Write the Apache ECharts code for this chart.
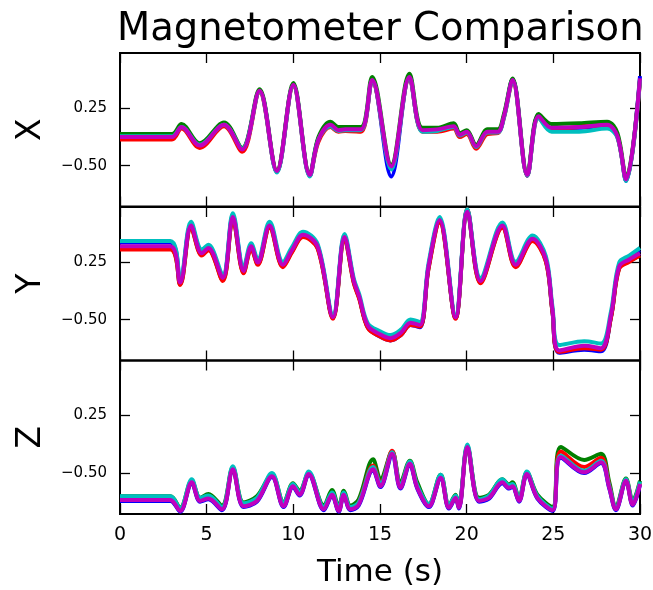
<!DOCTYPE html>
<html>
<head>
<meta charset="utf-8">
<title>Magnetometer Comparison</title>
<script src="https://cdn.jsdelivr.net/npm/echarts@6/dist/echarts.min.js"></script>
<style>
	html, body { margin: 0; padding: 0; background: #fff; }
	#chart { width: 653px; height: 590px; }
</style>
</head>
<body>
<div id="chart"></div>
<script>
// x panel
var tX = [0, 3.0, 3.55, 4.6, 6.0, 7.05, 8.05, 9.05, 10.0, 10.95, 11.45, 12.15, 12.6, 13.0, 13.9, 14.55, 15.65, 16.7, 17.45, 18.3, 19.25, 19.6, 20.0, 20.55, 21.2, 21.8, 22.15, 22.65, 23.5, 24.15, 24.9, 26.5, 28.1, 28.7, 29.2, 30.0];
var xBlue = [-0.12, -0.12, 0.01, -0.23, 0.03, -0.28, 0.47, -0.58, 0.55, -0.63, -0.15, 0.02, -0.03, -0.03, -0.03, 0.60, -0.64, 0.64, -0.05, -0.04, 0.01, -0.10, -0.06, -0.25, -0.06, -0.06, 0.14, 0.62, -0.63, 0.16, -0.02, -0.01, 0.01, -0.12, -0.70, 0.66];
var xGreen = [-0.09, -0.09, 0.04, -0.21, 0.06, -0.27, 0.49, -0.56, 0.57, -0.61, -0.13, 0.07, 0.00, 0.00, 0.00, 0.65, -0.49, 0.69, -0.01, -0.01, 0.05, -0.08, -0.04, -0.23, -0.03, -0.03, 0.17, 0.63, -0.60, 0.17, 0.04, 0.05, 0.07, -0.08, -0.66, 0.62];
var xRed = [-0.16, -0.16, -0.02, -0.27, 0.01, -0.32, 0.45, -0.58, 0.53, -0.63, -0.19, 0.00, -0.06, -0.05, -0.06, 0.59, -0.53, 0.63, -0.06, -0.06, -0.02, -0.13, -0.09, -0.28, -0.09, -0.08, 0.12, 0.59, -0.63, 0.12, -0.03, 0.00, 0.02, -0.13, -0.69, 0.60];
var xCyan = [-0.12, -0.12, 0.00, -0.23, 0.03, -0.28, 0.46, -0.59, 0.54, -0.64, -0.16, 0.01, -0.05, -0.04, -0.04, 0.60, -0.55, 0.64, -0.06, -0.05, 0.00, -0.11, -0.07, -0.26, -0.07, -0.07, 0.12, 0.60, -0.63, 0.12, -0.06, -0.06, -0.02, -0.14, -0.70, 0.61];
var xMagenta = [-0.13, -0.13, 0.00, -0.24, 0.03, -0.29, 0.47, -0.57, 0.55, -0.62, -0.16, 0.03, -0.04, -0.03, -0.03, 0.61, -0.51, 0.65, -0.04, -0.03, 0.01, -0.10, -0.06, -0.25, -0.06, -0.06, 0.14, 0.61, -0.62, 0.14, -0.01, 0.00, 0.03, -0.12, -0.68, 0.63];

// y panel
var tY = [0, 2.9, 3.47, 4.1, 4.72, 5.1, 5.93, 6.51, 7.13, 7.57, 7.95, 8.63, 9.4, 9.92, 10.56, 11.4, 12.29, 12.95, 13.49, 13.8, 14.3, 15.0, 15.6, 16.2, 16.76, 17.3, 17.8, 18.44, 19.36, 20.04, 20.8, 22.06, 22.83, 23.8, 24.57, 24.95, 25.34, 26.78, 27.75, 28.32, 28.8, 29.38, 30.0];
var yBlue = [0.50, 0.50, 0.00, 0.74, 0.38, 0.45, 0.05, 0.85, 0.15, 0.46, 0.25, 0.74, 0.22, 0.41, 0.61, 0.46, -0.47, 0.58, 0.00, -0.21, -0.60, -0.72, -0.77, -0.70, -0.57, -0.60, 0.19, 0.80, -0.48, 0.92, 0.01, 0.73, 0.22, 0.56, 0.28, -0.39, -0.93, -0.89, -0.91, -0.47, 0.20, 0.32, 0.40];
var yGreen = [0.42, 0.42, -0.04, 0.70, 0.34, 0.41, 0.01, 0.81, 0.11, 0.43, 0.22, 0.70, 0.19, 0.38, 0.58, 0.43, -0.48, 0.55, -0.02, -0.22, -0.60, -0.71, -0.76, -0.69, -0.56, -0.58, 0.17, 0.77, -0.48, 0.90, -0.02, 0.70, 0.19, 0.53, 0.26, -0.39, -0.91, -0.86, -0.88, -0.47, 0.17, 0.26, 0.33];
var yRed = [0.41, 0.41, -0.05, 0.69, 0.33, 0.40, 0.00, 0.80, 0.10, 0.42, 0.21, 0.69, 0.18, 0.37, 0.57, 0.42, -0.49, 0.54, -0.03, -0.23, -0.61, -0.72, -0.77, -0.70, -0.57, -0.59, 0.16, 0.76, -0.49, 0.93, -0.03, 0.69, 0.18, 0.52, 0.25, -0.40, -0.92, -0.87, -0.89, -0.48, 0.16, 0.25, 0.33];
var yCyan = [0.52, 0.52, 0.03, 0.77, 0.41, 0.47, 0.08, 0.88, 0.18, 0.49, 0.28, 0.77, 0.25, 0.44, 0.64, 0.48, -0.44, 0.61, 0.03, -0.17, -0.55, -0.65, -0.70, -0.63, -0.50, -0.53, 0.23, 0.83, -0.44, 0.93, 0.04, 0.76, 0.25, 0.59, 0.32, -0.33, -0.83, -0.78, -0.81, -0.40, 0.24, 0.33, 0.43];
var yMagenta = [0.45, 0.45, -0.02, 0.72, 0.36, 0.43, 0.04, 0.83, 0.13, 0.45, 0.24, 0.72, 0.21, 0.40, 0.60, 0.45, -0.47, 0.57, 0.00, -0.20, -0.58, -0.69, -0.74, -0.67, -0.54, -0.57, 0.19, 0.79, -0.47, 0.90, 0.00, 0.72, 0.21, 0.55, 0.28, -0.37, -0.90, -0.84, -0.87, -0.45, 0.19, 0.28, 0.36];

// z panel
var tZ = [0, 2.9, 3.47, 4.14, 4.62, 5.1, 5.88, 6.51, 7.13, 7.9, 8.77, 9.44, 9.98, 10.36, 10.89, 11.76, 12.23, 12.62, 12.91, 13.29, 13.77, 14.6, 15.03, 15.7, 16.18, 16.72, 17.15, 17.82, 18.5, 18.98, 19.36, 19.55, 20.04, 20.71, 21.29, 22.06, 22.44, 22.64, 23.02, 23.47, 24.08, 24.95, 25.43, 26.78, 27.75, 28.23, 28.61, 29.19, 29.58, 30.0];
var zBlue = [-0.86, -0.86, -1.00, -0.63, -0.87, -0.84, -0.98, -0.46, -0.94, -0.87, -0.55, -0.94, -0.68, -0.79, -0.52, -0.98, -0.79, -1.00, -0.79, -0.98, -0.92, -0.46, -0.68, -0.27, -0.70, -0.39, -0.70, -0.94, -0.57, -0.96, -0.83, -0.96, -0.17, -0.87, -0.83, -0.63, -0.70, -0.68, -0.87, -0.52, -0.83, -0.99, -0.30, -0.50, -0.37, -0.70, -0.98, -0.61, -0.92, -0.65];
var zGreen = [-0.80, -0.80, -0.95, -0.60, -0.82, -0.77, -0.92, -0.43, -0.88, -0.80, -0.52, -0.88, -0.63, -0.73, -0.50, -0.92, -0.72, -0.94, -0.73, -0.92, -0.84, -0.32, -0.58, -0.22, -0.62, -0.34, -0.62, -0.90, -0.52, -0.92, -0.78, -0.92, -0.15, -0.82, -0.78, -0.58, -0.65, -0.62, -0.82, -0.49, -0.78, -0.94, -0.16, -0.33, -0.25, -0.62, -0.94, -0.57, -0.86, -0.60];
var zRed = [-0.85, -0.85, -0.98, -0.61, -0.85, -0.82, -0.96, -0.44, -0.92, -0.85, -0.53, -0.92, -0.66, -0.77, -0.50, -0.96, -0.77, -0.98, -0.77, -0.96, -0.88, -0.40, -0.63, -0.21, -0.66, -0.36, -0.67, -0.92, -0.55, -0.94, -0.81, -0.94, -0.16, -0.85, -0.81, -0.61, -0.68, -0.66, -0.85, -0.50, -0.81, -0.97, -0.22, -0.42, -0.30, -0.66, -0.96, -0.59, -0.90, -0.63];
var zCyan = [-0.80, -0.80, -0.96, -0.58, -0.82, -0.79, -0.94, -0.41, -0.89, -0.82, -0.50, -0.89, -0.64, -0.75, -0.48, -0.94, -0.75, -0.96, -0.75, -0.94, -0.88, -0.42, -0.64, -0.23, -0.66, -0.35, -0.66, -0.90, -0.52, -0.92, -0.79, -0.92, -0.13, -0.84, -0.79, -0.58, -0.66, -0.64, -0.83, -0.48, -0.80, -0.96, -0.27, -0.47, -0.34, -0.67, -0.95, -0.58, -0.88, -0.61];
var zMagenta = [-0.85, -0.85, -0.99, -0.62, -0.86, -0.83, -0.97, -0.45, -0.93, -0.86, -0.54, -0.93, -0.67, -0.78, -0.51, -0.97, -0.78, -0.99, -0.78, -0.97, -0.91, -0.45, -0.67, -0.25, -0.69, -0.38, -0.69, -0.93, -0.56, -0.95, -0.82, -0.95, -0.16, -0.86, -0.82, -0.62, -0.69, -0.67, -0.86, -0.51, -0.82, -0.98, -0.29, -0.49, -0.36, -0.69, -0.97, -0.60, -0.91, -0.64];

var panelNames = ['X', 'Y', 'Z'];
var yTicks = [0.25, -0.5];
var lineColors = ['#0000ff', '#008000', '#ff0000', '#00bfbf', '#bf00bf'];

var panels = [
	{ t : tX, lines : [xBlue, xGreen, xRed, xCyan, xMagenta] },
	{ t : tY, lines : [yBlue, yGreen, yRed, yCyan, yMagenta] },
	{ t : tZ, lines : [zBlue, zGreen, zRed, zCyan, zMagenta] }
];

var FONT = 'DejaVu Sans';
var gridTops = [53, 207, 360.5];
var gridH = 153.5;

function pairs(t, v) {
	var out = [];
	for (var i = 0; i < t.length; i++) {
		out.push([t[i], v[i]]);
	}
	return out;
}

function fmtTick(v) {
	return (v < 0 ? '\u2212' : '') + Math.abs(v).toFixed(2);
}

var grids = [], xAxes = [], yAxes = [], series = [];
var tickLine = { color : '#000', width : 1.3 };

for (var p = 0; p < 3; p++) {
	var last = (p == 2);
	grids.push({
		left : 120,
		right : 13,
		top : gridTops[p],
		height : gridH,
		outerBoundsMode : 'none',
		containLabel : false,
		show : true,
		borderColor : '#000',
		borderWidth : 2,
		backgroundColor : 'transparent'
	});

	// bottom and top x axes (ticks on both sides, like the mpl box)
	xAxes.push({
		type : 'value', gridIndex : p, position : 'bottom',
		min : 0, max : 30, interval : 5,
		axisLine : { show : false, onZero : false },
		axisTick : { inside : true, length : 10, lineStyle : tickLine },
		splitLine : { show : false },
		axisLabel : {
			show : last, margin : 12, color : '#000', fontSize : 19, fontFamily : FONT,
			showMinLabel : true, showMaxLabel : true
		},
		name : last ? 'Time (s)' : '',
		nameLocation : 'middle',
		nameGap : 43,
		nameTextStyle : { fontSize : 31, fontFamily : FONT, color : '#000' }
	});
	xAxes.push({
		type : 'value', gridIndex : p, position : 'top',
		min : 0, max : 30, interval : 5,
		axisLine : { show : false, onZero : false },
		axisTick : { inside : true, length : 10, lineStyle : tickLine },
		splitLine : { show : false },
		axisLabel : { show : false }
	});

	// left and right y axes
	yAxes.push({
		type : 'value', gridIndex : p, position : 'left',
		min : -1.03, max : 0.96,
		axisLine : { show : false, onZero : false },
		axisTick : { inside : true, length : 10, lineStyle : tickLine, customValues : yTicks },
		splitLine : { show : false },
		axisLabel : {
			customValues : yTicks, formatter : fmtTick,
			margin : 13, color : '#000', fontSize : 15, fontFamily : FONT
		},
		name : panelNames[p],
		nameLocation : 'middle',
		nameRotate : 90,
		nameGap : 72,
		nameTextStyle : { fontSize : 33, fontFamily : FONT, color : '#000' }
	});
	yAxes.push({
		type : 'value', gridIndex : p, position : 'right',
		min : -1.03, max : 0.96,
		axisLine : { show : false, onZero : false },
		axisTick : { inside : true, length : 10, lineStyle : tickLine, customValues : yTicks },
		splitLine : { show : false },
		axisLabel : { show : false }
	});

	for (var s = 0; s < 5; s++) {
		series.push({
			type : 'line',
			xAxisIndex : p * 2,
			yAxisIndex : p * 2,
			data : pairs(panels[p].t, panels[p].lines[s]),
			smooth : 0.35,
			symbol : 'none',
			clip : true,
			lineStyle : { color : lineColors[s], width : 4 },
			z : 2 + s
		});
	}
}

var chart = echarts.init(document.getElementById('chart'), null, { renderer : 'canvas' });
chart.setOption({
	animation : false,
	backgroundColor : '#fff',
	title : {
		text : 'Magnetometer Comparison',
		left : 117,
		top : 10,
		padding : 0,
		textStyle : { fontSize : 38.5, fontWeight : 'normal', fontFamily : FONT, color : '#000' }
	},
	grid : grids,
	xAxis : xAxes,
	yAxis : yAxes,
	series : series
});
</script>
</body>
</html>
